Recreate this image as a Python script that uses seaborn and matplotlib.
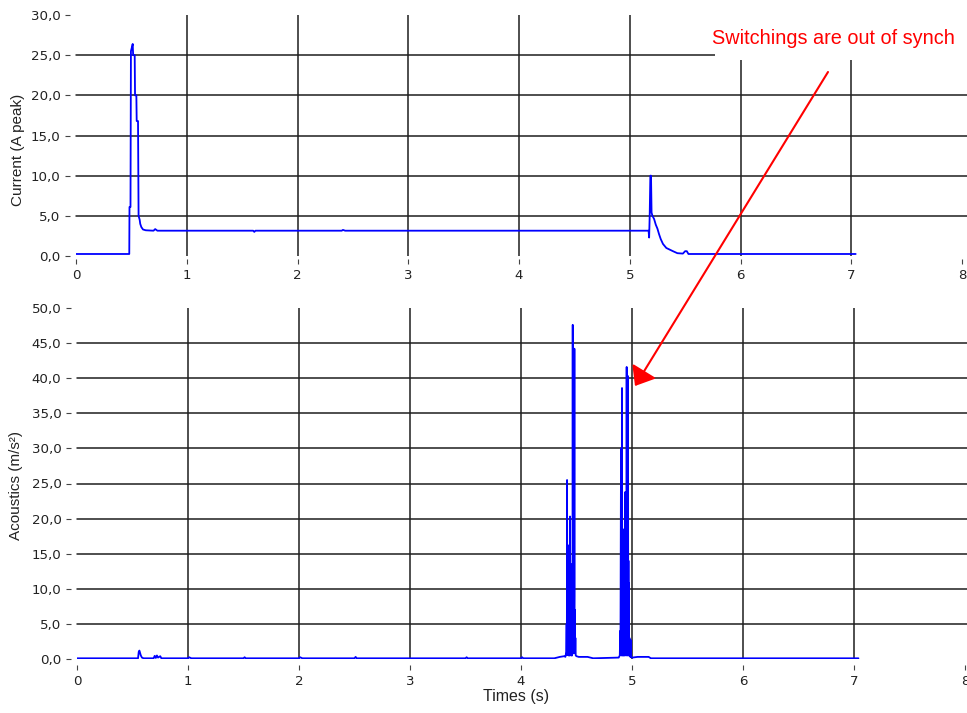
import matplotlib
matplotlib.use("Agg")
import matplotlib.pyplot as plt
import seaborn as sns
from matplotlib.patches import Rectangle

# ---------------- data ----------------
cur_time = [0.000, 0.481, 0.483, 0.492, 0.496, 0.505, 0.512, 0.516, 0.530, 0.533,
            0.545, 0.548, 0.560, 0.565, 0.575, 0.580, 0.590, 0.605, 0.630, 0.700,
            0.715, 0.735, 1.000, 1.600, 1.610, 1.620, 2.400, 2.410, 2.430, 3.500,
            4.500, 5.170, 5.175, 5.180, 5.186, 5.192, 5.197, 5.205, 5.220, 5.235,
            5.250, 5.265, 5.280, 5.300, 5.330, 5.360, 5.390, 5.430, 5.480, 5.500,
            5.515, 5.530, 5.560, 7.040]
cur_value = [0.25, 0.25, 6.1, 6.1, 25.5, 26.0, 26.4, 25.0, 25.0, 20.0,
             20.0, 16.8, 16.8, 5.0, 4.5, 4.0, 3.6, 3.3, 3.2, 3.15,
             3.35, 3.15, 3.15, 3.15, 3.0, 3.15, 3.15, 3.25, 3.15, 3.15,
             3.15, 3.15, 2.3, 5.0, 10.0, 10.0, 5.4, 5.0, 4.6, 3.9,
             3.4, 2.7, 2.1, 1.5, 1.0, 0.8, 0.6, 0.35, 0.3, 0.6,
             0.6, 0.25, 0.25, 0.25]

acc_time = [0.000, 0.550, 0.556, 0.562, 0.568, 0.575, 0.585, 0.600, 0.690, 0.700,
            0.710, 0.720, 0.730, 0.750, 0.760, 1.000, 1.010, 1.030, 1.500, 1.510,
            1.520, 2.000, 2.010, 2.030, 2.500, 2.510, 2.520, 3.500, 3.510, 3.520,
            4.000, 4.010, 4.020, 4.300, 4.350, 4.390,
            # first switching burst
            4.400, 4.408, 4.411, 4.413, 4.415, 4.417, 4.419, 4.421, 4.424, 4.426,
            4.428, 4.430, 4.432, 4.434, 4.436, 4.438, 4.440, 4.442, 4.444, 4.446,
            4.448, 4.450, 4.452, 4.454, 4.456, 4.458, 4.460, 4.462, 4.464, 4.466,
            4.468, 4.470, 4.472, 4.474, 4.476, 4.479, 4.481, 4.483, 4.485, 4.487,
            4.490, 4.493, 4.500, 4.520, 4.600, 4.650, 4.850, 4.880,
            # second switching burst
            4.890, 4.894, 4.896, 4.899, 4.901, 4.903, 4.905, 4.907, 4.910, 4.912,
            4.914, 4.916, 4.918, 4.920, 4.922, 4.924, 4.926, 4.928, 4.930, 4.932,
            4.934, 4.936, 4.938, 4.940, 4.942, 4.944, 4.946, 4.948, 4.950, 4.952,
            4.954, 4.956, 4.958, 4.960, 4.962, 4.964, 4.966, 4.968, 4.970, 4.972,
            4.974, 4.977, 4.980, 4.986, 4.988, 4.990, 5.000, 5.050, 5.100, 5.150,
            5.170, 7.040]
acc_value = [0.1, 0.1, 1.0, 1.2, 0.9, 0.5, 0.2, 0.1, 0.1, 0.45,
             0.15, 0.5, 0.2, 0.4, 0.1, 0.1, 0.25, 0.1, 0.1, 0.25,
             0.1, 0.1, 0.25, 0.1, 0.1, 0.3, 0.1, 0.1, 0.25, 0.1,
             0.1, 0.25, 0.1, 0.1, 0.3, 0.4,
             0.3, 1.0, 5.0, 0.6, 25.5, 1.0, 11.0, 0.6, 16.2, 1.0,
             13.0, 0.5, 12.5, 1.0, 13.5, 0.5, 12.0, 20.3, 0.8, 13.0,
             1.0, 12.0, 0.5, 13.5, 1.0, 11.0, 0.5, 12.5, 1.5, 47.6,
             2.0, 12.0, 0.8, 10.0, 1.0, 9.0, 44.2, 2.0, 7.0, 0.8,
             3.0, 0.5, 0.4, 0.3, 0.3, 0.1, 0.2, 0.2,
             0.5, 4.0, 0.6, 17.0, 30.0, 1.0, 18.0, 0.5, 38.6, 1.0,
             17.0, 0.5, 18.5, 1.0, 16.0, 0.5, 18.0, 1.0, 17.0, 0.5,
             18.0, 2.0, 17.5, 23.8, 1.0, 18.0, 0.5, 17.0, 1.0, 41.6,
             2.0, 18.0, 0.5, 17.5, 1.0, 40.3, 2.0, 14.0, 0.5, 10.8,
             0.8, 3.0, 0.4, 0.3, 2.7, 0.3, 0.2, 0.3, 0.3, 0.3,
             0.1, 0.1]

x_ticks = [0, 1, 2, 3, 4, 5, 6, 7, 8]
cur_ticks = [0, 5, 10, 15, 20, 25, 30]
acc_ticks = [0, 5, 10, 15, 20, 25, 30, 35, 40, 45, 50]

cur_label = "Current (A peak)"
acc_label = "Acoustics (m/s²)"
time_label = "Times (s)"
note_text = "Switchings are out of synch"

# ---------------- figure ----------------
sns.set_style("white")
plt.rcParams["font.family"] = ["DejaVu Sans"]

W, H = 967, 713
fig = plt.figure(figsize=(W / 100, H / 100), dpi=100)
ax1 = fig.add_axes([76 / W, 1 - 256 / H, 886 / W, 241 / H])
ax2 = fig.add_axes([77 / W, 1 - 659 / H, 888 / W, 351 / H])

BLUE = "#0000ff"
GRID = "#1e1e1e"

sns.lineplot(x=cur_time, y=cur_value, ax=ax1, color=BLUE, lw=1.3,
             estimator=None, sort=False, zorder=3)
sns.lineplot(x=acc_time, y=acc_value, ax=ax2, color=BLUE, lw=1.3,
             estimator=None, sort=False, zorder=3)


def style(ax, yticks, bottom_out, right_px, left_px):
    ax.set_xlim(x_ticks[0], x_ticks[-1])
    ax.set_ylim(yticks[0], yticks[-1])
    for s in ax.spines.values():
        s.set_visible(False)
    ax.spines["left"].set_position(("outward", 4))
    ax.spines["bottom"].set_position(("outward", bottom_out))
    ax.set_xticks(x_ticks)
    ax.set_xticklabels([str(v) for v in x_ticks])
    ax.set_yticks(yticks)
    ax.set_yticklabels([f"{v:.1f}".replace(".", ",") for v in yticks])
    ax.tick_params(axis="both", which="major", direction="out", length=3.6,
                   width=0.8, color="#444444", pad=3.6, labelsize=9.6,
                   labelcolor="#222222", left=True, bottom=True)
    xmax = (right_px - left_px) / (ax.get_position().width * W)
    for v in yticks[1:-1]:
        ax.axhline(v, xmin=0, xmax=xmax, color=GRID, lw=1.1, zorder=1,
                   clip_on=False)
    for v in x_ticks[1:-1]:
        ax.axvline(v, color=GRID, lw=1.1, zorder=1)
    ax.set_xlabel("")
    ax.set_ylabel("")


style(ax1, cur_ticks, 2, 967, 76)
style(ax2, acc_ticks, 4, 967, 77)

ax1.set_ylabel(cur_label, family="Liberation Sans", fontsize=11, color="#222222")
ax1.yaxis.set_label_coords(-0.0576, 0.44)
ax2.set_ylabel(acc_label, family="Liberation Sans", fontsize=11, color="#222222")
ax2.yaxis.set_label_coords(-0.0605, 0.493)
ax2.set_xlabel(time_label, family="Liberation Sans", fontsize=11.5, color="#222222")
ax2.xaxis.set_label_coords(0.495, -0.0855)

# white box behind the note (hides grid there)
fig.add_artist(Rectangle((715 / W, 1 - 60 / H), (W - 715) / W, 50 / H,
                         transform=fig.transFigure, facecolor="white",
                         edgecolor="none", zorder=1))
fig.text(711.5 / W, 1 - 39 / H, note_text, color="#ff0000", fontsize=14.3,
         family="Liberation Sans", ha="left", va="center", zorder=3)

ax2.annotate("", xy=(635, H - 386), xycoords="figure pixels",
             xytext=(828, H - 72), textcoords="figure pixels",
             annotation_clip=False,
             arrowprops=dict(arrowstyle="-|>,head_length=10.8,head_width=8.6",
                             mutation_scale=1, color="#ff0000", lw=1.5,
                             shrinkA=0, shrinkB=0))

fig.savefig("out.png", dpi=100)
